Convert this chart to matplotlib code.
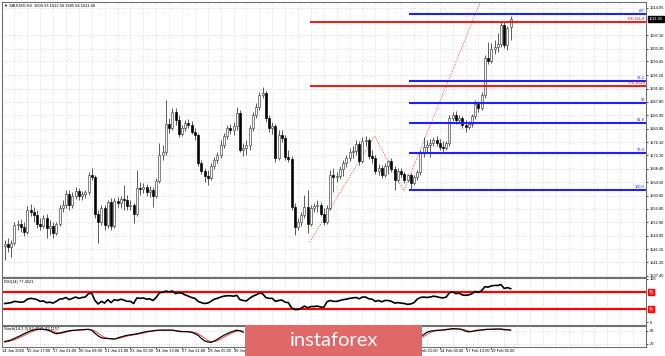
import numpy as np
import matplotlib
matplotlib.use("Agg")
import matplotlib.pyplot as plt
import matplotlib.transforms as mtransforms
from matplotlib.patches import Rectangle

# -------------------------------------------------------
# Data (XAUUSD H4)
# -------------------------------------------------------
opens = [
    1546.1, 1546.7, 1545.8, 1547.0, 1552.2, 1552.5, 1551.6, 1550.1, 1556.5, 1555.9,
    1555.1, 1552.5, 1551.9, 1554.2, 1551.3, 1551.9, 1549.9, 1552.5, 1557.1, 1558.0,
    1561.1, 1558.0, 1560.6, 1562.0, 1560.6, 1561.1, 1561.7, 1566.6, 1566.1, 1555.4,
    1553.0, 1557.1, 1552.2, 1558.8, 1551.9, 1559.1, 1558.5, 1559.7, 1559.4, 1557.7,
    1558.0, 1555.4, 1562.9, 1562.6, 1563.2, 1561.7, 1562.3, 1560.6, 1564.9, 1572.4,
    1573.3, 1581.4, 1580.2, 1584.9, 1582.6, 1578.5, 1580.2, 1581.7, 1581.1, 1579.1,
    1578.2, 1570.1, 1567.8, 1566.4, 1565.8, 1569.3, 1571.0, 1572.4, 1575.3, 1577.9,
    1580.2, 1579.7, 1580.8, 1584.6, 1573.9, 1574.5, 1575.3, 1580.2, 1584.0, 1586.3,
    1589.8, 1590.4, 1583.1, 1580.2, 1580.8, 1571.6, 1578.2, 1577.4, 1571.9, 1571.3,
    1557.4, 1551.6, 1553.0, 1555.1, 1557.4, 1552.5, 1557.1, 1557.7, 1558.0, 1555.4,
    1553.0, 1557.1, 1566.6, 1566.1, 1566.4, 1568.4, 1570.1, 1571.6, 1573.3, 1573.6,
    1575.6, 1570.7, 1576.5, 1576.8, 1572.1, 1571.6, 1567.8, 1568.7, 1566.6, 1569.3,
    1570.7, 1568.4, 1565.2, 1567.8, 1566.9, 1565.2, 1566.6, 1564.3, 1566.1, 1567.5,
    1573.0, 1574.7, 1575.3, 1575.9, 1576.8, 1575.9, 1574.7, 1574.4, 1575.9, 1583.1,
    1584.0, 1582.6, 1583.1, 1581.1, 1580.5, 1581.4, 1583.7, 1587.2, 1586.0, 1589.8,
    1600.5, 1599.6, 1603.1, 1603.7, 1604.5, 1610.0, 1604.2, 1609.3,
]
highs = [
    1547.8, 1548.4, 1547.8, 1553.0, 1553.6, 1553.9, 1553.0, 1557.7, 1558.2, 1557.4,
    1556.5, 1554.2, 1555.1, 1555.4, 1553.6, 1553.0, 1553.0, 1558.0, 1559.4, 1562.3,
    1562.3, 1561.7, 1563.2, 1562.9, 1562.0, 1562.3, 1567.5, 1568.7, 1566.6, 1556.5,
    1558.0, 1558.0, 1559.4, 1560.0, 1560.0, 1560.3, 1560.6, 1563.8, 1560.9, 1559.4,
    1558.5, 1568.1, 1564.6, 1564.3, 1564.0, 1563.5, 1563.2, 1565.8, 1575.9, 1575.3,
    1588.3, 1583.1, 1586.0, 1586.0, 1584.0, 1581.1, 1582.6, 1582.8, 1582.3, 1580.2,
    1578.8, 1571.0, 1568.7, 1568.1, 1570.1, 1571.9, 1573.3, 1576.8, 1578.8, 1581.1,
    1581.4, 1582.0, 1586.3, 1585.5, 1575.9, 1576.8, 1581.1, 1584.9, 1587.5, 1590.7,
    1592.1, 1590.9, 1584.0, 1582.0, 1581.4, 1579.7, 1579.7, 1578.2, 1573.9, 1572.1,
    1558.5, 1554.2, 1555.9, 1560.9, 1562.3, 1558.0, 1558.5, 1559.4, 1558.8, 1557.1,
    1558.0, 1568.1, 1568.7, 1567.5, 1569.3, 1571.0, 1572.4, 1574.4, 1575.0, 1576.8,
    1576.5, 1577.6, 1577.9, 1577.4, 1573.9, 1572.4, 1569.8, 1569.5, 1570.1, 1571.0,
    1571.6, 1569.3, 1568.7, 1568.7, 1567.5, 1566.9, 1567.2, 1566.6, 1568.1, 1573.9,
    1577.6, 1576.8, 1577.1, 1577.6, 1577.9, 1577.1, 1576.5, 1576.5, 1584.0, 1584.9,
    1585.1, 1584.0, 1583.7, 1582.6, 1582.3, 1584.3, 1588.3, 1588.0, 1590.7, 1601.4,
    1605.1, 1604.8, 1605.7, 1607.7, 1610.9, 1610.9, 1609.7, 1612.6,
]
lows = [
    1542.0, 1544.3, 1542.9, 1546.4, 1550.7, 1550.1, 1549.0, 1549.6, 1554.8, 1553.0,
    1551.3, 1550.7, 1551.3, 1548.4, 1549.3, 1548.4, 1549.3, 1551.9, 1555.9, 1557.1,
    1556.5, 1557.1, 1559.7, 1559.4, 1559.4, 1560.0, 1560.9, 1565.2, 1554.2, 1547.0,
    1552.2, 1550.7, 1551.3, 1550.7, 1551.3, 1557.4, 1557.1, 1556.5, 1556.5, 1556.5,
    1552.8, 1554.8, 1560.9, 1561.4, 1560.6, 1560.3, 1557.4, 1560.0, 1564.3, 1571.0,
    1572.4, 1578.8, 1579.7, 1581.1, 1577.6, 1577.9, 1579.4, 1580.2, 1578.5, 1576.8,
    1569.3, 1566.9, 1564.6, 1563.8, 1565.2, 1568.4, 1570.1, 1571.6, 1574.5, 1577.1,
    1578.5, 1578.2, 1579.7, 1573.3, 1572.1, 1572.4, 1573.9, 1579.4, 1583.1, 1585.5,
    1588.9, 1582.0, 1579.1, 1578.5, 1570.4, 1571.0, 1576.2, 1571.0, 1570.4, 1556.5,
    1549.3, 1550.7, 1551.9, 1554.2, 1549.9, 1551.9, 1555.9, 1555.9, 1554.8, 1552.2,
    1552.5, 1556.5, 1561.7, 1564.6, 1565.5, 1566.4, 1568.9, 1570.7, 1571.6, 1572.4,
    1569.5, 1570.1, 1575.0, 1571.3, 1570.1, 1566.9, 1566.6, 1565.8, 1566.1, 1566.9,
    1567.5, 1562.3, 1564.6, 1566.1, 1564.3, 1564.6, 1562.6, 1563.8, 1565.2, 1566.6,
    1571.9, 1573.0, 1571.9, 1575.0, 1575.0, 1573.9, 1573.0, 1573.9, 1575.0, 1582.3,
    1581.4, 1581.7, 1580.2, 1579.1, 1579.9, 1580.5, 1582.8, 1584.9, 1585.5, 1588.9,
    1598.7, 1599.0, 1601.6, 1602.2, 1603.7, 1603.4, 1602.8, 1605.6,
]
closes = [
    1546.7, 1545.8, 1547.0, 1552.2, 1552.5, 1551.6, 1550.1, 1556.5, 1555.9, 1555.1,
    1552.5, 1551.9, 1554.2, 1551.3, 1551.9, 1549.9, 1552.5, 1557.1, 1558.0, 1561.1,
    1558.0, 1560.6, 1562.0, 1560.6, 1561.1, 1561.7, 1566.6, 1566.1, 1555.4, 1553.0,
    1557.1, 1552.2, 1558.8, 1551.9, 1559.1, 1558.5, 1559.7, 1559.4, 1557.7, 1558.0,
    1555.4, 1562.9, 1562.6, 1563.2, 1561.7, 1562.3, 1560.6, 1564.9, 1572.4, 1573.3,
    1581.4, 1580.2, 1584.9, 1582.6, 1578.5, 1580.2, 1581.7, 1581.1, 1579.1, 1578.2,
    1570.1, 1567.8, 1566.4, 1565.8, 1569.3, 1571.0, 1572.4, 1575.3, 1577.9, 1580.2,
    1579.7, 1580.8, 1584.6, 1573.9, 1574.5, 1575.3, 1580.2, 1584.0, 1586.3, 1589.8,
    1590.4, 1583.1, 1580.2, 1580.8, 1571.6, 1578.2, 1577.4, 1571.9, 1571.3, 1557.4,
    1551.6, 1553.0, 1555.1, 1557.4, 1552.5, 1557.1, 1557.7, 1558.0, 1555.4, 1553.0,
    1557.1, 1566.6, 1566.1, 1566.4, 1568.4, 1570.1, 1571.6, 1573.3, 1573.6, 1575.6,
    1570.7, 1576.5, 1576.8, 1572.1, 1571.6, 1567.8, 1568.7, 1566.6, 1569.3, 1570.7,
    1568.4, 1565.2, 1567.8, 1566.9, 1565.2, 1566.6, 1564.3, 1566.1, 1567.5, 1573.0,
    1574.7, 1575.3, 1575.9, 1576.8, 1575.9, 1574.7, 1574.4, 1575.9, 1583.1, 1584.0,
    1582.6, 1583.1, 1581.1, 1580.5, 1581.4, 1583.7, 1587.2, 1586.0, 1589.8, 1600.5,
    1599.6, 1603.1, 1603.7, 1604.5, 1610.0, 1604.2, 1609.2, 1611.6,
]

rsi_values = [
    43, 44, 45, 48, 47, 46, 47, 53, 55, 54,
    52, 48, 49, 45, 46, 44, 48, 53, 54, 57,
    52, 55, 58, 55, 57, 58, 66, 67, 50, 42,
    48, 44, 52, 45, 52, 50, 53, 51, 48, 48,
    43, 56, 55, 56, 53, 54, 50, 57, 68, 69,
    72, 70, 72, 66, 68, 67, 63, 60, 57, 55,
    48, 45, 43, 44, 48, 53, 55, 58, 60, 61,
    61, 60, 62, 52, 50, 49, 55, 60, 63, 67,
    66, 57, 55, 55, 48, 50, 51, 46, 45, 33,
    29, 29, 32, 37, 33, 36, 36, 37, 35, 34,
    47, 50, 48, 48, 50, 52, 53, 55, 56, 57,
    54, 58, 58, 54, 53, 48, 50, 47, 50, 50,
    48, 44, 45, 44, 43, 41, 42, 45, 53, 57,
    58, 57, 58, 60, 59, 57, 56, 58, 68, 70,
    66, 67, 63, 62, 63, 66, 71, 69, 73, 82,
    81, 84, 85, 85, 87, 78, 80, 77.45,
]

nan = np.nan
# bars 75-128 sit under the watermark
stoch_main = [
    30, 33, 37, 44, 51, 58, 66, 73, 80, 84,
    87, 88, 87, 84, 80, 72, 66, 69, 73, 77,
    80, 82, 83, 84, 85, 86, 87, 82, 69, 56,
    47, 45, 44, 42, 41, 46, 51, 55, 59, 61,
    63, 66, 69, 73, 76, 78, 80, 82, 83, 83,
    83, 83, 83, 80, 77, 76, 76, 75, 73, 67,
    59, 45, 33, 28, 26, 32, 40, 50, 59, 66,
    73, 78, 83, 80, 73,
] + [nan] * 54 + [
    52, 62, 73, 78, 80, 82, 83, 84, 86, 88,
    90, 89, 88, 85, 78, 75, 77, 81, 83, 84,
    86, 87, 87, 88, 88, 88, 85, 84, 83.5,
]
stoch_signal = [
    26, 29, 33, 38, 44, 51, 58, 65, 73, 79,
    84, 86, 87, 86, 84, 79, 73, 69, 69, 73,
    77, 80, 82, 83, 84, 85, 86, 85, 79, 69,
    57, 49, 45, 44, 42, 43, 46, 51, 55, 58,
    61, 63, 66, 69, 73, 76, 78, 80, 82, 83,
    83, 83, 83, 82, 80, 78, 76, 76, 75, 72,
    66, 57, 46, 35, 29, 29, 33, 41, 50, 58,
    66, 72, 78, 80, 79,
] + [nan] * 54 + [
    45, 53, 62, 71, 77, 80, 82, 83, 84, 86,
    88, 89, 89, 87, 84, 79, 77, 78, 80, 83,
    84, 86, 87, 87, 88, 88, 87, 86, 82.1,
]

price_ticks = [1614.95, 1607.10, 1603.20, 1599.45, 1595.50, 1591.60, 1587.80,
               1583.90, 1580.00, 1576.10, 1572.30, 1568.40, 1564.50, 1560.60,
               1556.80, 1552.90, 1549.00, 1545.10, 1541.30, 1537.40]

time_labels = ["14 Jan 2020", "15 Jan 17:00", "17 Jan 01:00", "20 Jan 09:00",
               "21 Jan 21:00", "23 Jan 05:00", "24 Jan 13:00", "27 Jan 21:00",
               "29 Jan 05:00", "30 Jan 13:00", "31 Jan 21:00", "4 Feb 05:00",
               "5 Feb 13:00", "6 Feb 21:00", "10 Feb 05:00", "11 Feb 13:00",
               "12 Feb 21:00", "14 Feb 05:00", "17 Feb 13:00", "19 Feb 01:00"]

fibo_levels = [1613.2, 1593.7, 1587.5, 1581.6, 1573.1, 1562.3]
fibo_names = ["0.0", "38.2", "50", "61.8", "76.4", "100.0"]
fibo_start = 125.6

fe_levels = [1611.0, 1592.3]
fe_names = ["FE 161.8", "FE 100.0"]
fe_start = 94.6

zigzag_bars = [94.6, 114.8, 123.8, 147.5]
zigzag_prices = [1547.2, 1577.9, 1562.0, 1616.5]

last_price = 1611.60

# -------------------------------------------------------
# Figure / panes
# -------------------------------------------------------
plt.rcParams["font.family"] = ["Liberation Sans", "DejaVu Sans"]
SMALL = 2.9

W, H = 665, 356


def pane(y_top, y_bottom):
    return [1.5 / W, 1 - y_bottom / H, 644.5 / W, (y_bottom - y_top) / H]


fig = plt.figure(figsize=(W / 100, H / 100), dpi=100)
ax = fig.add_axes(pane(1.5, 277))
ax_rsi = fig.add_axes(pane(278, 324.5))
ax_st = fig.add_axes(pane(325.5, 347))

x = np.arange(len(closes))
x_right = 198.9
label_bars = np.arange(len(time_labels)) * 8 - 1
grid_bars = np.arange(-1, 200, 4)

for a in (ax, ax_rsi, ax_st):
    a.set_xlim(-0.93, x_right)
    a.set_xticks(grid_bars, minor=True)
    a.set_xticks([])
    a.tick_params(which="minor", length=0)
    a.grid(which="minor", axis="x", color="#c8c8c8", lw=0.5, ls=(0, (1, 2)))
    a.yaxis.tick_right()
    a.tick_params(axis="y", labelsize=SMALL, length=1.5, width=0.5, pad=1)
    for s in a.spines.values():
        s.set_color("#707070")
        s.set_linewidth(0.8)

# -------------------------------------------------------
# Candles
# -------------------------------------------------------
o = np.array(opens)
h = np.array(highs)
l = np.array(lows)
c = np.array(closes)
up = c >= o

ax.vlines(x, l, h, color="#303030", lw=0.55, zorder=3)
ax.bar(x[up], c[up] - o[up], bottom=o[up], width=0.62,
       color="#f4f4f4", edgecolor="#404040", lw=0.45, zorder=4)
ax.bar(x[~up], o[~up] - c[~up], bottom=c[~up], width=0.62,
       color="black", edgecolor="black", lw=0.45, zorder=4)

ax.set_ylim(1537.1, 1616.8)
ax.set_yticks(price_ticks)
ax.set_yticklabels([f"{p:.2f}" for p in price_ticks])
ax.grid(axis="y", color="#c8c8c8", lw=0.5, ls=(0, (1, 2)))

# fibo lines
for lvl, name in zip(fibo_levels, fibo_names):
    ax.hlines(lvl, fibo_start, x_right, color="#2020ff", lw=1.5, zorder=5)
    ax.text(x_right - 0.3, lvl + 0.3, name, color="#2020ff", fontsize=SMALL,
            ha="right", va="bottom", zorder=6)
for lvl, name in zip(fe_levels, fe_names):
    ax.hlines(lvl, fe_start, x_right, color="#ff0000", lw=1.3, zorder=5)
    ax.text(x_right - 0.3, lvl + 0.3, name, color="#ff0000", fontsize=SMALL,
            ha="right", va="bottom", zorder=6)

ax.plot(zigzag_bars, zigzag_prices, color="#ff5050", lw=0.6,
        ls=(0, (1.5, 1.5)), zorder=2)

right_tr = mtransforms.blended_transform_factory(ax.transAxes, ax.transData)
ax.text(1.004, last_price, f"{last_price:.2f}", transform=right_tr,
        fontsize=SMALL, color="white", va="center", ha="left",
        bbox=dict(boxstyle="square,pad=0.25", fc="black", ec="black"))

ax.text(0.004, 0.992, "\u25bc XAUUSD,H4  1609.33 1612.56 1605.64 1611.60",
        transform=ax.transAxes, fontsize=SMALL, va="top", ha="left")

# -------------------------------------------------------
# RSI
# -------------------------------------------------------
ax_rsi.plot(x, rsi_values, color="black", lw=1.2, zorder=3)
ax_rsi.axhline(70, color="#ff0000", lw=1.6, zorder=2)
ax_rsi.axhline(30, color="#ff0000", lw=1.6, zorder=2)
ax_rsi.set_ylim(-5.8, 102.3)
ax_rsi.set_yticks([0, 100])
ax_rsi.set_yticklabels(["0", "100"])
rsi_tr = mtransforms.blended_transform_factory(ax_rsi.transAxes, ax_rsi.transData)
for lvl in (70, 30):
    ax_rsi.text(1.004, lvl, str(lvl), transform=rsi_tr, fontsize=SMALL,
                color="white", va="center", ha="left",
                bbox=dict(boxstyle="square,pad=0.25", fc="#ff3030", ec="#ff0000"))
ax_rsi.text(0.004, 0.96, "RSI(14) 77.4521", transform=ax_rsi.transAxes,
            fontsize=SMALL, va="top", ha="left")

# -------------------------------------------------------
# Stochastic
# -------------------------------------------------------
ax_st.plot(x, stoch_signal, color="#ff3030", lw=0.6, zorder=3)
ax_st.plot(x, stoch_main, color="black", lw=0.9, zorder=4)
ax_st.axhline(80, color="#c8c8c8", lw=0.5, ls=(0, (1, 2)))
ax_st.axhline(20, color="#c8c8c8", lw=0.5, ls=(0, (1, 2)))
ax_st.set_ylim(4.2, 104.7)
ax_st.set_yticks([20, 80])
ax_st.set_yticklabels(["20", "80"])
ax_st.text(0.004, 0.93, "Stoch(14,3,3) 83.4771 82.1157", transform=ax_st.transAxes,
           fontsize=SMALL, va="top", ha="left")

ax_st.set_xticks(label_bars[label_bars > -0.9])
ax_st.tick_params(axis="x", length=1.5, width=0.5, labelbottom=False)

# the watermark covers the labels from bar 75 to bar 128
wm_left, wm_right = 74.5, 129.0
time_tr = mtransforms.blended_transform_factory(ax_st.transData, ax_st.transAxes)
for b, lab in zip(label_bars, time_labels):
    if wm_left < b < wm_right - 6:
        continue
    ax_st.text(b, -0.19, lab, transform=time_tr, fontsize=SMALL,
               ha="left", va="center", clip_on=False)

# -------------------------------------------------------
# Watermark
# -------------------------------------------------------
fig.patches.append(Rectangle((245 / W, 0), 177 / W, 31 / H,
                             transform=fig.transFigure, facecolor="#e06868",
                             edgecolor="none", zorder=10))
fig.text(290 / W, 1 - 346 / H, "instaforex", color="white", fontsize=14.5,
         family=["Lato", "DejaVu Sans"], weight="normal", va="baseline",
         ha="left", zorder=11)

fig.savefig("out.png", dpi=100)
